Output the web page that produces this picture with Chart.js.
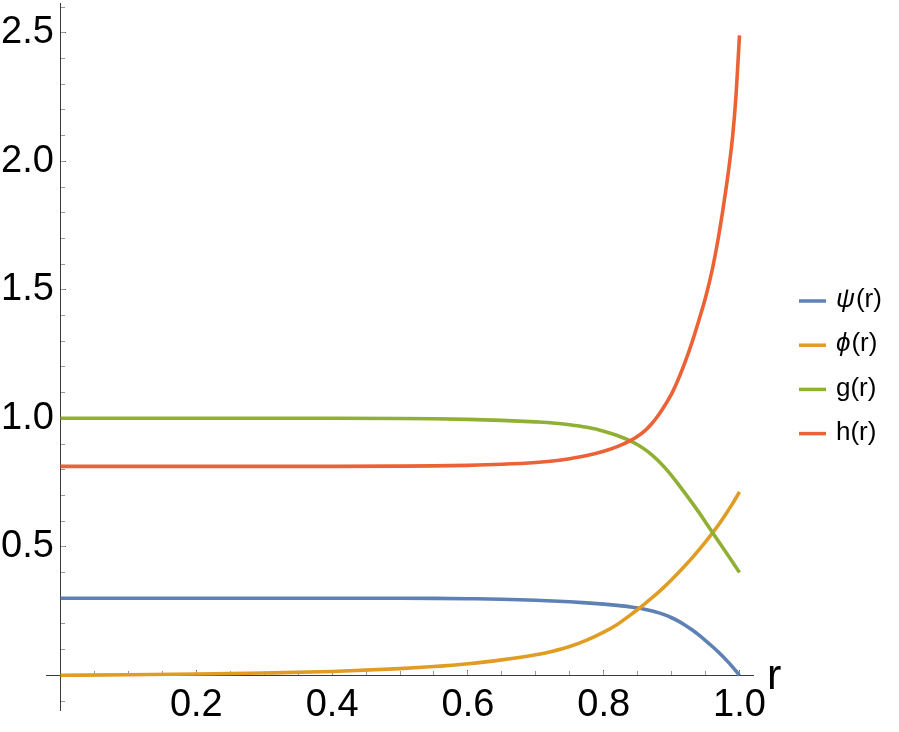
<!DOCTYPE html>
<html>
<head>
<meta charset="utf-8">
<script src="https://cdn.jsdelivr.net/npm/chart.js@4"></script>
<style>
  html, body { margin: 0; padding: 0; background: #fff; }
  #plot { display: block; }
</style>
</head>
<body>
<canvas id="plot" width="899" height="732"></canvas>
<script>
// sample positions along r and the four profiles
const r   = [0, 0.1, 0.2, 0.3, 0.4, 0.5, 0.55, 0.6, 0.65, 0.7, 0.725, 0.75, 0.775, 0.8, 0.82, 0.84, 0.85, 0.86, 0.87, 0.88, 0.89, 0.9, 0.91, 0.92, 0.93, 0.94, 0.95, 0.96, 0.97, 0.98, 0.99, 0.995, 1.0];
const psi = [0.3, 0.3, 0.3, 0.3, 0.3, 0.3, 0.2995, 0.298, 0.296, 0.292, 0.289, 0.286, 0.282, 0.277, 0.272, 0.266, 0.262, 0.257, 0.251, 0.244, 0.235, 0.224, 0.211, 0.195, 0.177, 0.157, 0.135, 0.112, 0.088, 0.061, 0.032, 0.016, 0];
const phi = [0, 0.002, 0.005, 0.009, 0.015, 0.026, 0.034, 0.045, 0.06, 0.08, 0.094, 0.112, 0.137, 0.168, 0.198, 0.236, 0.256, 0.277, 0.299, 0.322, 0.346, 0.372, 0.399, 0.427, 0.456, 0.487, 0.519, 0.553, 0.589, 0.628, 0.669, 0.691, 0.714];
const g   = [1, 1, 1, 1, 1, 0.999, 0.998, 0.996, 0.992, 0.986, 0.982, 0.975, 0.965, 0.95, 0.933, 0.911, 0.897, 0.88, 0.86, 0.836, 0.808, 0.777, 0.743, 0.708, 0.672, 0.635, 0.596, 0.557, 0.518, 0.479, 0.44, 0.42, 0.40];
const h   = [0.813, 0.813, 0.813, 0.813, 0.813, 0.814, 0.815, 0.817, 0.821, 0.828, 0.834, 0.843, 0.855, 0.872, 0.89, 0.914, 0.93, 0.95, 0.977, 1.01, 1.05, 1.095, 1.153, 1.22, 1.295, 1.38, 1.47, 1.58, 1.72, 1.89, 2.10, 2.26, 2.49];

const seriesLabels = ['ψ(r)', 'ϕ(r)', 'g(r)', 'h(r)'];
const seriesColors = ['#5E81B5', '#E19C24', '#8FB032', '#EB6235'];
const xTickLabels = ['0.2', '0.4', '0.6', '0.8', '1.0'];
const yTickLabels = ['0.5', '1.0', '1.5', '2.0', '2.5'];
const axisLabel = 'r';

const X_MIN = -0.0214, X_MAX = 1.0199;
const Y_MIN = -0.135, Y_MAX = 2.616;
const FONT = "'Liberation Sans', Arial, sans-serif";

function pts(ys) {
  return r.map((x, i) => ({ x: x, y: ys[i] }));
}

// scales sit on the data axes, so they should take no room in the layout
function noRoom(scale) {
  scale.paddingLeft = scale.paddingRight = scale.paddingTop = scale.paddingBottom = 0;
  if (scale.isHorizontal()) scale.height = 0; else scale.width = 0;
}

function labelFor(list) {
  return function (value) {
    const s = Number(value).toFixed(1);
    return list.includes(s) ? s : '';
  };
}

const legendPlugin = {
  id: 'sideLegend',
  afterDraw(chart) {
    const ctx = chart.ctx;
    const area = chart.chartArea;
    const x0 = area.right + 46;
    const y0 = 300;
    ctx.save();
    chart.data.datasets.forEach((ds, i) => {
      const y = y0 + i * 44.2;
      ctx.strokeStyle = ds.borderColor;
      ctx.lineWidth = 3.5;
      ctx.beginPath();
      ctx.moveTo(x0, y + 1);
      ctx.lineTo(x0 + 27, y + 1);
      ctx.stroke();
      ctx.fillStyle = '#000';
      ctx.textBaseline = 'middle';
      ctx.textAlign = 'left';
      let tx = x0 + 37;
      let text = ds.label;
      if (/^[\u0370-\u03FF]/.test(text)) {
        ctx.font = 'italic 26px ' + FONT;
        ctx.fillText(text[0], tx, y);
        tx += ctx.measureText(text[0]).width + 1;
        text = text.slice(1);
      }
      ctx.font = '26px ' + FONT;
      ctx.fillText(text, tx, y);
    });
    // axis label at the end of the r axis
    ctx.font = '43px ' + FONT;
    ctx.textBaseline = 'alphabetic';
    ctx.fillStyle = '#000';
    ctx.fillText(axisLabel, area.right + 14, chart.scales.y.getPixelForValue(0) + 14);
    ctx.restore();
  }
};

const ctx = document.getElementById('plot').getContext('2d');

new Chart(ctx, {
  type: 'line',
  data: {
    datasets: [psi, phi, g, h].map((ys, i) => ({
      label: seriesLabels[i],
      data: pts(ys),
      borderColor: seriesColors[i],
      backgroundColor: seriesColors[i],
      borderWidth: 3.6,
      pointRadius: 0,
      cubicInterpolationMode: 'monotone',
      xAxisID: 'x',
      yAxisID: 'y',
      order: 4 - i
    }))
  },
  options: {
    responsive: false,
    animation: false,
    layout: { padding: { left: 0, right: 146, top: 3, bottom: 22 } },
    plugins: {
      legend: { display: false },
      tooltip: { enabled: false }
    },
    scales: {
      x: {
        type: 'linear', axis: 'x', position: { y: 0 },
        min: X_MIN, max: X_MAX,
        grid: { drawOnChartArea: false, tickLength: -6, tickColor: '#555' },
        border: { color: '#3a3a3a', width: 1 },
        ticks: {
          stepSize: 0.2, includeBounds: false, autoSkip: false, maxRotation: 0,
          padding: 13, color: '#000', font: { family: FONT, size: 38 },
          callback: labelFor(xTickLabels)
        },
        afterFit: noRoom
      },
      xMinor: {
        type: 'linear', axis: 'x', position: { y: 0 },
        min: X_MIN, max: X_MAX,
        grid: { drawOnChartArea: false, tickLength: -4, tickColor: '#999' },
        border: { display: false },
        ticks: { stepSize: 0.05, includeBounds: false, display: false },
        afterFit: noRoom
      },
      y: {
        type: 'linear', axis: 'y', position: { x: 0 },
        min: Y_MIN, max: Y_MAX,
        grid: { drawOnChartArea: false, tickLength: -6, tickColor: '#555' },
        border: { color: '#3a3a3a', width: 1 },
        ticks: { stepSize: 0.5, includeBounds: false, display: false },
        afterFit: noRoom
      },
      yMinor: {
        type: 'linear', axis: 'y', position: { x: 0 },
        min: Y_MIN, max: Y_MAX,
        grid: { drawOnChartArea: false, tickLength: -4, tickColor: '#999' },
        border: { display: false },
        ticks: { stepSize: 0.1, includeBounds: false, display: false },
        afterFit: noRoom
      },
      yLab: {
        type: 'linear', axis: 'y', position: 'left',
        min: Y_MIN, max: Y_MAX,
        grid: { display: false, drawTicks: false },
        border: { display: false },
        ticks: {
          stepSize: 0.5, includeBounds: false, autoSkip: false,
          mirror: true, padding: -45,
          color: '#000', font: { family: FONT, size: 38 },
          callback: labelFor(yTickLabels)
        },
        afterFit(scale) {
          scale.paddingTop = scale.paddingBottom = 0;
          scale.width = 46;
        }
      }
    }
  },
  plugins: [legendPlugin]
});
</script>
</body>
</html>
